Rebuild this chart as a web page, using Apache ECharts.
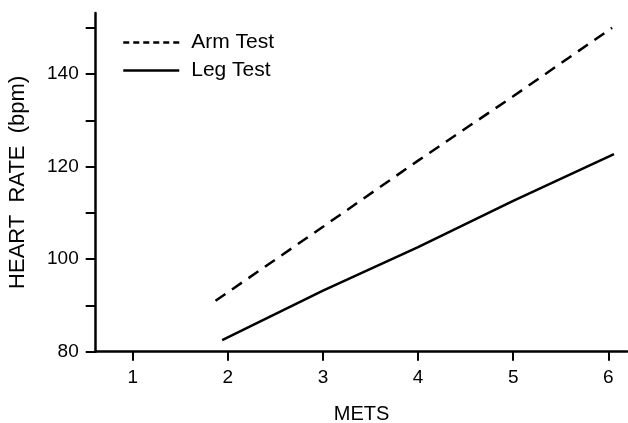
<!DOCTYPE html>
<html>

<head>
    <meta charset="UTF-8">
    <title>Heart Rate vs METS</title>
    <script src="https://cdn.jsdelivr.net/npm/echarts/dist/echarts.min.js"></script>
</head>

<body style="margin:0;">
    <div id="chart" style="width: 628px;height:423px;"></div>
    <script type="text/javascript">
        var myChart = echarts.init(document.getElementById('chart'));

        // values
        var armMets = [1.87, 3, 4, 5, 6.04];
        var armHr = [91, 107, 121.3, 135.2, 150];
        var legMets = [1.94, 3, 4, 5, 6.06];
        var legHr = [82.5, 93.2, 102.6, 112.6, 122.7];

        var xTicks = [1, 2, 3, 4, 5, 6];
        var yTicks = [80, 90, 100, 110, 120, 130, 140, 150];
        var yLabels = [80, 100, 120, 140];

        var font = 'Liberation Sans';

        function pairs(xs, ys) {
            return xs.map(function (x, i) { return [x, ys[i]]; });
        }

        var option = {
            animation: false,
            backgroundColor: '#fff',
            textStyle: { fontFamily: font, color: '#000' },
            grid: {
                left: 95.7,
                right: 0.7,
                top: 13,
                bottom: 71.3,
                containLabel: false,
                outerBoundsMode: 'none'
            },
            legend: {
                orient: 'vertical',
                left: 122,
                top: 32,
                padding: 0,
                itemWidth: 56,
                itemHeight: 14,
                itemGap: 7,
                textStyle: { fontSize: 21, color: '#000', fontFamily: font, padding: [0, 0, 0, 7] },
                data: [
                    { name: 'Arm Test', itemStyle: { opacity: 0 }, lineStyle: { type: [6, 4], width: 2.5, opacity: 1 } },
                    { name: 'Leg Test', itemStyle: { opacity: 0 }, lineStyle: { width: 2.5, opacity: 1 } }
                ]
            },
            xAxis: {
                type: 'value',
                min: 0.61,
                max: 6.2,
                name: 'METS',
                nameLocation: 'middle',
                nameGap: 53,
                nameTextStyle: { fontSize: 20, color: '#000', fontFamily: font },
                splitLine: { show: false },
                axisLine: { lineStyle: { color: '#000', width: 2.5 } },
                axisTick: { length: 9, lineStyle: { color: '#000', width: 2 }, customValues: xTicks },
                axisLabel: { fontSize: 19, color: '#000', margin: 17, customValues: xTicks }
            },
            yAxis: {
                type: 'value',
                min: 80,
                max: 153.2,
                name: 'HEART  RATE  (bpm)',
                nameLocation: 'middle',
                nameGap: 67,
                nameRotate: 90,
                nameTextStyle: { fontSize: 22, color: '#000', fontFamily: font },
                splitLine: { show: false },
                axisLine: { show: true, lineStyle: { color: '#000', width: 2.5 } },
                axisTick: { show: true, length: 10, lineStyle: { color: '#000', width: 2 }, customValues: yTicks },
                axisLabel: { fontSize: 19, color: '#000', margin: 17, customValues: yLabels }
            },
            series: [
                {
                    name: 'Arm Test',
                    type: 'line',
                    data: pairs(armMets, armHr),
                    symbol: 'none',
                    color: '#000',
                    lineStyle: { color: '#000', width: 2.5, type: [12, 8] }
                },
                {
                    name: 'Leg Test',
                    type: 'line',
                    data: pairs(legMets, legHr),
                    symbol: 'none',
                    color: '#000',
                    lineStyle: { color: '#000', width: 2.5 }
                }
            ]
        };

        myChart.setOption(option);
    </script>
</body>

</html>
